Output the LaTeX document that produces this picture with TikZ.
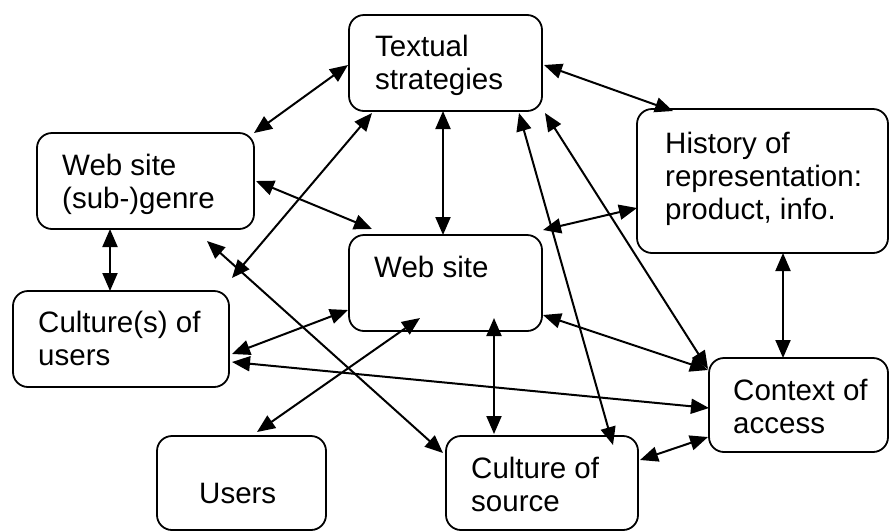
\documentclass[tikz,border=0pt]{standalone}
\usepackage{fontspec}
\setmainfont{Liberation Sans}
\usetikzlibrary{arrows.meta,calc}
\begin{document}
\begin{tikzpicture}[x=1pt,y=-1pt,
  box/.style={draw, line width=1.8pt, rounded corners=15pt, inner sep=0pt, outer sep=0pt},
  txt/.style={anchor=base west, inner sep=0pt, font=\fontsize{29.5}{33}\selectfont},
  link/.style={line width=2pt, {Triangle[length=18pt,width=15pt]}-{Triangle[length=18pt,width=15pt]}}]
\useasboundingbox (0,0) rectangle (890,531);

% boxes
\node[box, minimum width=193pt, minimum height=96pt] (ts) at (445.5,63) {};
\node[box, minimum width=217pt, minimum height=96pt] (gen) at (145.5,181) {};
\node[box, minimum width=251pt, minimum height=144pt] (hist) at (762.5,181) {};
\node[box, minimum width=193pt, minimum height=96pt] (ws) at (445.5,283) {};
\node[box, minimum width=216pt, minimum height=96pt] (cu) at (121,339) {};
\node[box, minimum width=179pt, minimum height=94pt] (ctx) at (798.5,405) {};
\node[box, minimum width=169pt, minimum height=94pt] (users) at (241.5,483) {};
\node[box, minimum width=192pt, minimum height=94pt] (cs) at (542,483) {};

% texts
\node[txt] (t-ts) at ($(ts.north west)+(26,41)$) {\vtop{\hbox{Textual}\hbox{strategies}}};
\node[txt] (t-gen) at ($(gen.north west)+(25,42)$) {\vtop{\hbox{Web site}\hbox{(sub-)genre}}};
\node[txt] (t-hist) at ($(hist.north west)+(28,44)$) {\vtop{\hbox{History of}\hbox{representation:}\hbox{product, info.}}};
\node[txt] (t-ws) at ($(ws.north west)+(25,42)$) {Web site};
\node[txt] (t-cu) at ($(cu.north west)+(25,41)$) {\vtop{\hbox{Culture(s) of}\hbox{users}}};
\node[txt] (t-ctx) at ($(ctx.north west)+(24,42)$) {\vtop{\hbox{Context of}\hbox{access}}};
\node[txt] (t-users) at ($(users.north west)+(42,67)$) {Users};
\node[txt] (t-cs) at ($(cs.north west)+(25,42)$) {\vtop{\hbox{Culture of}\hbox{source}}};

% connectors
\draw[link] (gen.north east) -- ($(ts.north west)+(-1,50)$);
\draw[link] ($(ts.south west)+(94,0)$) -- ($(ws.north west)+(94,0)$);
\draw[link] ($(ts.north east)+(2,50)$) -- ($(hist.north west)+(36,2)$);
\draw[link] ($(gen.north east)+(2,48)$) -- ($(ws.north west)+(23,-6)$);
\draw[link] ($(cu.north east)+(3,-13)$) -- ($(ts.south west)+(23,2)$);
\draw[link] ($(gen.south west)+(170,12)$) -- ($(cs.north west)+(-3,17)$);
\draw[link] ($(gen.south west)+(73,0)$) -- ($(cu.north west)+(97,0)$);
\draw[link] ($(cu.north east)+(3,63)$) -- ($(ws.north west)+(-1,75)$);
\draw[link] ($(cu.north east)+(3,71)$) -- ($(ctx.north west)+(0,50)$);
\draw[link] ($(users.north west)+(100,-4)$) -- ($(ws.north west)+(71,83)$);
\draw[link] ($(ws.north west)+(145,83)$) -- ($(cs.north west)+(48,-2)$);
\draw[link] ($(ws.north east)+(1,80)$) -- ($(ctx.north west)+(-1,12)$);
\draw[link] ($(ts.south west)+(170,2)$) -- ($(cs.north west)+(167,9)$);
\draw[link] ($(ts.south east)+(3,2)$) -- ($(ctx.north west)+(-1,11)$);
\draw[link] ($(ws.north east)+(1,-5)$) -- ($(hist.north west)+(0,99)$);
\draw[link] ($(hist.south west)+(146,0)$) -- ($(ctx.north west)+(74,0)$);
\draw[link] ($(cs.north east)+(2,24)$) -- ($(ctx.north west)+(-1,79)$);
\end{tikzpicture}
\end{document}
